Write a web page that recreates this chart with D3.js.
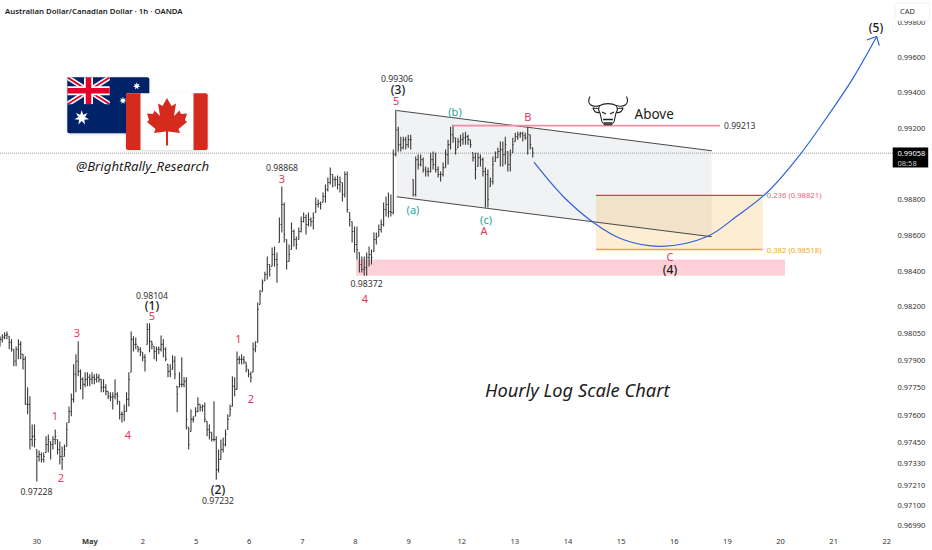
<!DOCTYPE html>
<html>
<head>
<meta charset="utf-8">
<title>AUDCAD 1h</title>
<style>
  html, body { margin: 0; padding: 0; background: #fff; }
  svg { display: block; }
  text { font-family: "Noto Sans", sans-serif; }
</style>
</head>
<body>
<script src="https://cdn.jsdelivr.net/npm/d3@7"></script>
<script>

// hourly bars, prices in 1e-5 units
var highs = [98034,98045,98056,98061,98034,98017,97962,97978,98017,98006,97934,97923,97751,97701,97545,97545,97406,97401,97390,97390,
  97479,97490,97451,97479,97517,97462,97451,97423,97434,97556,97645,97717,97878,97934,98006,97850,97806,97834,97834,97823,
  97834,97823,97828,97823,97795,97795,97767,97728,97723,97723,97795,97723,97673,97617,97656,97723,97834,98061,98034,98028,
  97978,97973,97945,97934,98106,98106,98006,97978,97978,97978,98039,98017,97973,97878,97878,97928,97923,97756,97834,97917,
  97806,97806,97529,97628,97590,97640,97695,97656,97656,97667,97562,97545,97501,97673,97479,97406,97462,97473,97517,97601,
  97656,97812,97806,97950,97923,97934,97923,97889,97850,97839,98000,98006,98222,98294,98350,98394,98479,98434,98529,98535,
  98501,98697,98871,98781,98574,98546,98669,98630,98591,98641,98703,98725,98714,98725,98697,98725,98809,98798,98787,98837,
  98882,98921,98977,98938,98927,98932,98927,98893,98955,98955,98725,98675,98647,98647,98501,98479,98479,98501,98535,98518,
  98613,98613,98658,98686,98781,98815,98837,98826,99078,99302,99207,99151,99151,99151,99162,99162,98910,99039,99050,99050,
  99033,98983,98977,99061,99067,99061,98983,98955,99005,99078,99134,99207,99218,99145,99145,99162,99173,99179,99162,99134,
  99061,99061,99061,99050,99033,98977,98966,98921,99039,99067,99089,99123,99123,99151,99067,99078,99145,99173,99179,99179,
  99179,99173,99207,99162,99089];
var lows = [97978,98000,98017,98017,97962,97950,97867,97867,97906,97906,97850,97656,97601,97406,97423,97418,97229,97340,97334,97334,
  97390,97390,97351,97406,97434,97379,97323,97295,97368,97423,97556,97590,97667,97723,97812,97739,97684,97751,97756,97756,
  97767,97767,97778,97778,97723,97723,97706,97684,97673,97628,97684,97656,97573,97556,97562,97617,97645,97834,97950,97962,
  97945,97923,97895,97839,97989,97945,97962,97906,97895,97934,97950,97917,97895,97806,97806,97850,97795,97612,97751,97751,
  97751,97517,97406,97506,97556,97590,97612,97617,97617,97556,97479,97462,97451,97451,97240,97279,97351,97390,97423,97517,
  97590,97645,97701,97739,97878,97878,97878,97834,97806,97778,97834,97945,98000,98211,98283,98344,98350,98367,98423,98423,
  98333,98557,98613,98557,98406,98451,98518,98535,98518,98574,98613,98669,98602,98647,98647,98630,98725,98753,98742,98781,
  98781,98843,98882,98865,98871,98854,98837,98787,98809,98725,98647,98557,98501,98462,98389,98389,98372,98372,98423,98434,
  98507,98546,98591,98613,98647,98703,98697,98703,98714,99039,99067,99067,99078,99078,99089,99078,98815,98815,98966,98983,
  98949,98927,98927,98949,98966,98949,98921,98899,98927,98977,98994,99078,99117,99050,99089,99095,99106,99106,99106,99089,
  99011,98910,98983,98983,98927,98753,98753,98871,98882,99011,99033,98983,98983,98994,98955,98955,99061,99123,99134,99145,
  99123,99134,99050,99078,99033];
var closes = [98017,98028,98039,98045,98000,97962,97895,97962,97989,97934,97906,97656,97656,97462,97479,97462,97368,97379,97351,97368,
  97434,97462,97434,97462,97479,97406,97368,97351,97406,97517,97617,97684,97823,97895,97839,97795,97767,97795,97806,97795,
  97806,97795,97806,97795,97751,97751,97728,97701,97695,97701,97712,97701,97601,97601,97617,97684,97795,98017,97989,97989,
  97962,97950,97917,97895,98072,98006,97989,97950,97962,97962,97989,97962,97906,97839,97823,97895,97823,97712,97767,97767,
  97784,97573,97434,97573,97573,97617,97656,97640,97645,97573,97517,97501,97462,97462,97295,97351,97406,97434,97490,97573,
  97628,97756,97739,97906,97906,97906,97895,97867,97823,97806,97962,97978,98184,98267,98333,98378,98434,98406,98490,98462,
  98434,98658,98770,98602,98451,98490,98619,98574,98546,98619,98675,98697,98658,98686,98675,98697,98770,98776,98770,98815,
  98854,98893,98938,98910,98910,98882,98899,98826,98938,98742,98686,98619,98546,98518,98434,98406,98417,98473,98490,98473,
  98574,98585,98630,98658,98742,98770,98731,98725,99050,99190,99106,99089,99134,99106,99134,99134,98826,99022,98994,99022,
  98966,98955,98955,99022,98994,98966,98938,98938,98977,99050,99106,99162,99145,99078,99123,99134,99145,99151,99134,99106,
  99033,98966,99033,99022,98955,98938,98798,98899,98994,99033,99067,99078,99050,99106,98994,99050,99106,99151,99162,99168,
  99156,99145,99162,99106,99058];

var lastPrice = 0.99058;
var lastCountdown = "08:58";

// right axis labels of the log scale
var priceTicks = [0.998,0.996,0.994,0.992,0.988,0.986,0.984,0.982,0.9805,0.979,0.9775,0.976,0.9745,0.9733,0.9721,0.971,0.9699];

// one label per trading day, position is the index in this list
var dayLabels = ["30","May","2","5","6","7","8","9","12","13","14","15","16","19","20","21","22"];

// wave counts: text, trading day, price
var redText = ["1","2","3","4","5","1","2","3","4","5","A","B","C"];
var redDay = [0.344,0.457,0.758,1.718,2.17,3.798,4.033,4.617,6.179,6.763,8.418,9.246,11.919];
var redPrice = [0.97595,0.97251,0.98056,0.9749,0.9815,0.98023,0.9769,0.98916,0.98247,0.99355,0.98624,0.99266,0.98479];

var tealText = ["(a)","(b)","(c)"];
var tealDay = [7.082,7.873,8.457];
var tealPrice = [0.98744,0.99294,0.98688];

var blackText = ["(1)","(2)","(3)","(4)","(5)"];
var blackDay = [2.17,3.412,6.8,11.919,15.797];
var blackPrice = [0.98206,0.97184,0.99414,0.98409,0.99767];

// swing extremes printed on the chart and where they are printed
var swingValue = ["0.97228","0.98104","0.97232","0.98868","0.98372","0.99306"];
var swingDay = [-0.004,2.17,3.412,4.617,6.209,6.781];
var swingPrice = [0.97171,0.98261,0.97121,0.98974,0.98324,0.99476];

// drawings
var channelDays = [6.776,12.705];
var channelTop = [0.99298,0.99072];
var channelBottom = [0.98813,0.98589];

var levelPrice = 0.99213;
var levelDays = [7.835,12.861];

var fibDays = [10.527,13.665];
var fibLevels = [0.98821,0.98518];
var fibNames = ["0.236 (0.98821)","0.382 (0.98518)"];

var zoneDays = [6.01,14.084];
var zonePrices = [0.98462,0.98372];

var pathDays = [9.36,9.906,10.47,11.035,11.764,12.61,13.175,13.746,14.367,14.93,15.365,15.81];
var pathPrices = [0.99007,0.98816,0.98671,0.98574,0.98536,0.98589,0.98704,0.98837,0.9905,0.99285,0.99481,0.99716];

var w = 932, h = 550;

var svg = d3.select("body").append("svg")
    .attr("width", w)
    .attr("height", h)
    .style("background", "#fff");

var x = d3.scaleLinear().domain([0, 16]).range([36.7, 886.8]);
var y = d3.scaleLog().domain([0.996, 0.9699]).range([57, 525]);

// bars were read at a slightly uneven spacing, so the index scale has anchors
var barX = d3.scaleLinear().domain([0, 113, 168, 224]).range([0, 260, 393.3, 532.7]);

var red = "#e8365d", teal = "#26a69a", ink = "#1c1c1c", grey = "#333";

function rectDays(days, prices) {
  return svg.append("rect")
      .attr("x", x(days[0]))
      .attr("width", x(days[1]) - x(days[0]))
      .attr("y", y(prices[0]))
      .attr("height", y(prices[1]) - y(prices[0]));
}

// pink support zone sits under the bars
rectDays(zoneDays, zonePrices).attr("fill", "#fdd0d8");

// channel fill
var channelArea = [
  [channelDays[0], channelTop[0]], [channelDays[1], channelTop[1]],
  [channelDays[1], channelBottom[1]], [channelDays[0], channelBottom[0]]
];
svg.append("path")
    .attr("d", d3.line().x(function(d){ return x(d[0]); }).y(function(d){ return y(d[1]); })(channelArea) + "Z")
    .attr("fill", "#787b86")
    .attr("fill-opacity", 0.1);

// fib box
rectDays(fibDays, fibLevels).attr("fill", "#f5a623").attr("fill-opacity", 0.2);

// last price line
svg.append("line")
    .attr("x1", 0).attr("x2", 893)
    .attr("y1", y(lastPrice)).attr("y2", y(lastPrice))
    .attr("stroke", "#999")
    .attr("stroke-dasharray", "1,1");

// ohlc bars, open is the previous close held inside the bar's range
var bars = svg.append("g").attr("stroke", "#3a3a3a").attr("stroke-width", 1.1).attr("fill", "none");
highs.forEach(function(hi, i) {
  var lo = lows[i];
  var open = i ? closes[i - 1] : closes[0];
  open = Math.max(lo, Math.min(hi, open));
  var bx = barX(i);
  bars.append("path")
      .attr("d", "M" + bx + "," + y(hi / 1e5) + "V" + y(lo / 1e5)
        + "M" + (bx - 1) + "," + y(open / 1e5) + "H" + bx
        + "M" + bx + "," + y(closes[i] / 1e5) + "H" + (bx + 1));
});

// channel edges
[channelTop, channelBottom].forEach(function(edge) {
  svg.append("line")
      .attr("x1", x(channelDays[0])).attr("x2", x(channelDays[1]))
      .attr("y1", y(edge[0])).attr("y2", y(edge[1]))
      .attr("stroke", "#4a4a4a")
      .attr("stroke-width", 1.1);
});

// B level
svg.append("line")
    .attr("x1", x(levelDays[0])).attr("x2", x(levelDays[1]))
    .attr("y1", y(levelPrice)).attr("y2", y(levelPrice))
    .attr("stroke", "#f28ea3")
    .attr("stroke-width", 1.6);
svg.append("text")
    .attr("x", x(levelDays[1]) + 4)
    .attr("y", y(levelPrice))
    .attr("dominant-baseline", "central")
    .attr("font-size", 8.5)
    .attr("fill", grey)
    .text(levelPrice.toFixed(5));

// fib edges and names
var fibColors = ["#e0394a", "#f5a623"];
var fibText = ["#ef5f7c", "#f5a623"];
fibLevels.forEach(function(level, i) {
  svg.append("line")
      .attr("x1", x(fibDays[0])).attr("x2", x(fibDays[1]))
      .attr("y1", y(level)).attr("y2", y(level))
      .attr("stroke", fibColors[i])
      .attr("stroke-width", 1.4);
  svg.append("text")
      .attr("x", x(fibDays[1]) + 4)
      .attr("y", y(level))
      .attr("dominant-baseline", "central")
      .attr("font-size", 7.7)
      .attr("fill", fibText[i])
      .text(fibNames[i]);
});

// projected path
var pathPts = pathDays.map(function(d, i){ return [x(d), y(pathPrices[i])]; });
svg.append("path")
    .attr("d", d3.line().curve(d3.curveCatmullRom)(pathPts))
    .attr("fill", "none")
    .attr("stroke", "#2f62d9")
    .attr("stroke-width", 1.2);
var tip = pathPts[pathPts.length - 1];
svg.append("path")
    .attr("d", "M" + (tip[0] - 10) + "," + (tip[1] + 3.5) + "L" + tip[0] + "," + tip[1] + "L" + (tip[0] + 2.5) + "," + (tip[1] + 9))
    .attr("fill", "none")
    .attr("stroke", "#2f62d9")
    .attr("stroke-width", 1.2);

function labels(texts, days, prices, size, color, weight) {
  svg.append("g").selectAll("text")
      .data(texts)
      .enter()
      .append("text")
      .attr("x", function(d, i){ return x(days[i]); })
      .attr("y", function(d, i){ return y(prices[i]); })
      .attr("text-anchor", "middle")
      .attr("dominant-baseline", "central")
      .attr("font-size", size)
      .attr("font-weight", weight || 400)
      .attr("fill", color)
      .text(function(d){ return d; });
}

labels(redText, redDay, redPrice, 11, red);
labels(tealText, tealDay, tealPrice, 11, teal);
labels(blackText, blackDay, blackPrice, 12, ink, 500);
labels(swingValue, swingDay, swingPrice, 8.7, grey);

// right price axis
var axis = svg.append("g");
axis.selectAll("text")
    .data(priceTicks)
    .enter()
    .append("text")
    .attr("x", 897.5)
    .attr("y", function(d){ return y(d); })
    .attr("dominant-baseline", "central")
    .attr("font-size", 7.5)
    .attr("fill", grey)
    .text(function(d){ return d.toFixed(5); });

// currency box covers the top of the highest tick
svg.append("rect")
    .attr("x", 895).attr("y", 3)
    .attr("width", 34.5).attr("height", 17.5)
    .attr("fill", "#fff")
    .attr("stroke", "#f2f2f2");
svg.append("text")
    .attr("x", 900).attr("y", 11)
    .attr("dominant-baseline", "central")
    .attr("font-size", 7.5)
    .attr("fill", grey)
    .text("CAD");

// last price tag
svg.append("rect")
    .attr("x", 892.7).attr("y", y(lastPrice) - 5.7)
    .attr("width", 35.5).attr("height", 20)
    .attr("fill", "#000");
svg.append("text")
    .attr("x", 897.5).attr("y", y(lastPrice))
    .attr("dominant-baseline", "central")
    .attr("font-size", 7.5)
    .attr("fill", "#fff")
    .text(lastPrice.toFixed(5));
svg.append("text")
    .attr("x", 897.5).attr("y", y(lastPrice) + 9.5)
    .attr("dominant-baseline", "central")
    .attr("font-size", 7.5)
    .attr("fill", "#ccc")
    .text(lastCountdown);

// day axis
svg.append("g").selectAll("text")
    .data(dayLabels)
    .enter()
    .append("text")
    .attr("x", function(d, i){ return x(i); })
    .attr("y", 541)
    .attr("text-anchor", "middle")
    .attr("dominant-baseline", "central")
    .attr("font-size", 7.5)
    .attr("font-weight", function(d){ return d == "May" ? 700 : 400; })
    .attr("fill", grey)
    .text(function(d){ return d; });

// header and captions
svg.append("text")
    .attr("x", 5).attr("y", 10.5)
    .attr("dominant-baseline", "central")
    .attr("font-size", 7.8)
    .attr("font-weight", 600)
    .attr("fill", ink)
    .text("Australian Dollar/Canadian Dollar \u00b7 1h \u00b7 OANDA");
svg.append("text")
    .attr("x", 76).attr("y", 166)
    .attr("dominant-baseline", "central")
    .attr("font-size", 13.2)
    .attr("font-style", "italic")
    .attr("fill", ink)
    .text("@BrightRally_Research");
svg.append("text")
    .attr("x", 485).attr("y", 389)
    .attr("dominant-baseline", "central")
    .attr("font-size", 18.3)
    .attr("font-style", "italic")
    .attr("fill", ink)
    .text("Hourly Log Scale Chart");
svg.append("text")
    .attr("x", 634.5).attr("y", 114)
    .attr("dominant-baseline", "central")
    .attr("font-size", 13.5)
    .attr("fill", ink)
    .text("Above");

// bull head
var bull = svg.append("g")
    .attr("fill", "none")
    .attr("stroke", "#222")
    .attr("stroke-width", 1.1)
    .attr("stroke-linejoin", "round");
bull.append("path").attr("d", "M590,96.5C586,104 592,108 600,105.5M626.5,96.5C630,104 624,108 616,105.5");
bull.append("path").attr("d", "M600,105.5C604,103 612,103 616,105.5C618,108 618,110 616,113L614,122C612,125 604,125 602,122L600,113C598,110 598,108 600,105.5Z")
    .attr("fill", "#fff");
bull.append("path").attr("d", "M599,108.5L593,108C594,112 597,113 600,112.5M617,108.5L623,108C622,112 619,113 616,112.5");
bull.append("path").attr("d", "M602,112L606,114M614,112L610,114M603,119.5H613").attr("stroke-width", 1.3);
bull.append("path").attr("d", "M604,122.5H612V125H604Z").attr("fill", "#555").attr("stroke-width", 0.6);

// flags
var defs = svg.append("defs");
defs.append("filter").attr("id", "soft")
    .attr("x", "-10%").attr("y", "-10%").attr("width", "120%").attr("height", "120%")
    .append("feDropShadow")
    .attr("dx", 0).attr("dy", 1).attr("stdDeviation", 1.5)
    .attr("flood-color", "#000").attr("flood-opacity", 0.15);
defs.append("clipPath").attr("id", "jack")
    .append("rect").attr("x", 67.3).attr("y", 77.3).attr("width", 42.5).attr("height", 27);

svg.append("rect")
    .attr("x", 67.3).attr("y", 77.3).attr("width", 82).attr("height", 56)
    .attr("rx", 2)
    .attr("fill", "#012169")
    .attr("filter", "url(#soft)");

var jack = svg.append("g").attr("clip-path", "url(#jack)").attr("fill", "none");
jack.append("path").attr("d", "M67.3,77.3L109.8,104.3M109.8,77.3L67.3,104.3").attr("stroke", "#fff").attr("stroke-width", 5);
jack.append("path").attr("d", "M67.3,77.3L109.8,104.3M109.8,77.3L67.3,104.3").attr("stroke", "#e4002b").attr("stroke-width", 1.8);
jack.append("path").attr("d", "M88.5,77.3V104.3M67.3,90.8H109.8").attr("stroke", "#fff").attr("stroke-width", 9);
jack.append("path").attr("d", "M88.5,77.3V104.3M67.3,90.8H109.8").attr("stroke", "#e4002b").attr("stroke-width", 5.5);

function star(cx, cy, r) {
  var pts = d3.range(14).map(function(i) {
    var a = i * Math.PI / 7 - Math.PI / 2;
    var rr = i % 2 ? r * 0.45 : r;
    return (cx + rr * Math.cos(a)) + "," + (cy + rr * Math.sin(a));
  });
  svg.append("polygon").attr("points", pts.join(" ")).attr("fill", "#fff");
}
star(81.7, 117.7, 7.5);
star(136.7, 86, 3.8);
star(123, 100.5, 3.8);

svg.append("rect")
    .attr("x", 126).attr("y", 93.3).attr("width", 81.7).attr("height", 56.7)
    .attr("rx", 2)
    .attr("fill", "#fff")
    .attr("filter", "url(#soft)");
svg.append("path")
    .attr("d", "M128,93.3H140.5V150H128a2,2 0 0 1 -2,-2V95.3a2,2 0 0 1 2,-2Z")
    .attr("fill", "#d52b1e");
svg.append("path")
    .attr("d", "M193.5,93.3H205.7a2,2 0 0 1 2,2V148a2,2 0 0 1 -2,2H193.5Z")
    .attr("fill", "#d52b1e");
svg.append("polygon")
    .attr("points", "167,98 171.5,106 176,103.5 174,116 179.5,110.5 181,114 187,113.5 185,120 187,122 178.5,129 180,133 168,131.5 168,145.5 166,145.5 166,131.5 154,133 155.5,129 147,122 149,120 147,113.5 153,114 154.5,110.5 160,116 158,103.5 162.5,106")
    .attr("fill", "#d52b1e");

</script>
</body>
</html>
